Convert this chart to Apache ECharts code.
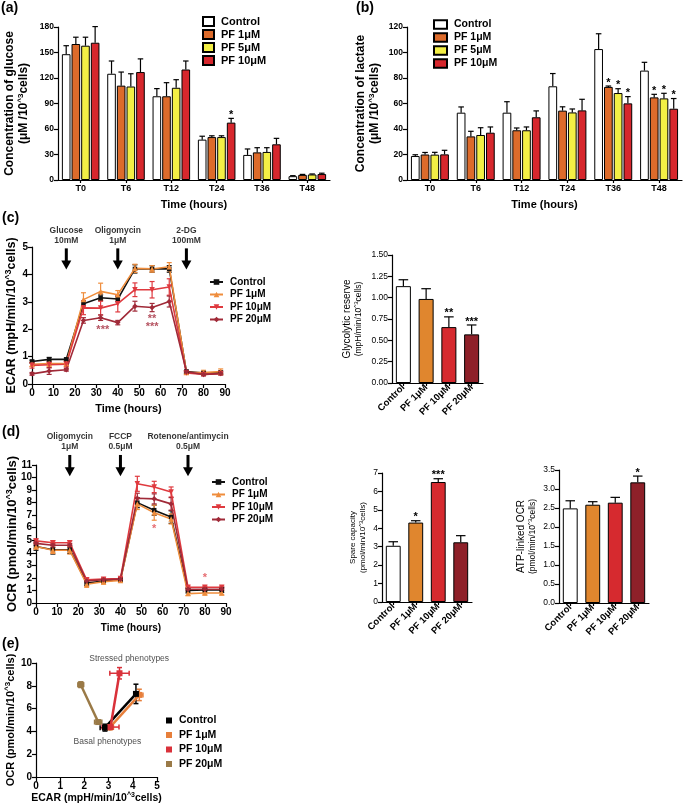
<!DOCTYPE html>
<html><head><meta charset="utf-8">
<script src="https://cdn.jsdelivr.net/npm/echarts/dist/echarts.min.js"></script>
<style>html,body{margin:0;padding:0;background:#fff}#c{width:685px;height:807px}</style>
</head><body><div id="c"></div>
<script>
// ================= DATA =================
const timeCats = ['T0','T6','T12','T24','T36','T48'];
const abNames = ['Control','PF 1μM','PF 5μM','PF 10μM'];
const glucoseControl = [148, 125, 98.5, 47.5, 29.5, 4.5];
const glucosePF1 = [160, 111, 98.5, 50.5, 32.5, 6];
const glucosePF5 = [158, 110, 108.5, 50.5, 33, 6.5];
const glucosePF10 = [161.5, 127, 130, 67.5, 42, 7];
const glucoseErrControl = [10, 15, 9, 4, 7, 0.6];
const glucoseErrPF1 = [8, 16, 16, 1.5, 5.5, 0.6];
const glucoseErrPF5 = [10, 15, 9.5, 1.5, 5, 0.6];
const glucoseErrPF10 = [19, 15.5, 10, 5, 7, 1];
const glucoseStarsPF10 = ['', '', '', '*', '', ''];

const lactateControl = [18.8, 52.8, 52.8, 73.5, 102.7, 85.8];
const lactatePF1 = [20, 34.2, 39, 54.4, 73, 64.8];
const lactatePF5 = [19.9, 35.3, 39, 53, 68.2, 64];
const lactatePF10 = [20.1, 37.1, 49.2, 54.6, 60.1, 55.9];
const lactateErrControl = [1, 4.5, 8.6, 10, 12, 6.5];
const lactateErrPF1 = [1.6, 4, 1.8, 3, 0.7, 2.4];
const lactateErrPF5 = [1.8, 5.7, 2.6, 2.7, 3.4, 4];
const lactateErrPF10 = [3.2, 4.5, 5, 8.7, 5.3, 8];
const lactateStarsPF = ['', '', '', '', '*', '*'];

const cdNames = ['Control','PF 1μM','PF 10μM','PF 20μM'];
const timeH = [0, 8, 16, 24, 32, 40, 48, 56, 64, 72, 80, 88];
const ecarControl = [0.82, 0.9, 0.9, 2.93, 3.15, 3.1, 4.2, 4.2, 4.2, 0.45, 0.4, 0.42];
const ecarPF1 = [0.72, 0.75, 0.75, 3.08, 3.38, 3.26, 4.22, 4.2, 4.28, 0.42, 0.42, 0.45];
const ecarPF10 = [0.68, 0.7, 0.72, 2.78, 2.77, 2.93, 3.44, 3.44, 3.54, 0.4, 0.35, 0.38];
const ecarPF20 = [0.37, 0.47, 0.52, 2.32, 2.42, 2.24, 2.84, 2.79, 3.01, 0.45, 0.35, 0.38];
const ecarErrControl = [0.05, 0.07, 0.05, 0.1, 0.1, 0.1, 0.15, 0.12, 0.12, 0.05, 0.05, 0.05];
const ecarErrPF1 = [0.08, 0.1, 0.1, 0.25, 0.3, 0.15, 0.15, 0.12, 0.15, 0.05, 0.08, 0.1];
const ecarErrPF10 = [0.1, 0.1, 0.1, 0.25, 0.25, 0.3, 0.25, 0.3, 0.3, 0.05, 0.05, 0.05];
const ecarErrPF20 = [0.05, 0.12, 0.05, 0.1, 0.1, 0.08, 0.18, 0.15, 0.2, 0.05, 0.05, 0.05];
const cArrowTimes = [16, 40, 72];
const cArrowTexts = ['Glucose\n10mM', 'Oligomycin\n1μM', '2-DG\n100mM'];
const cStarTimes = [33, 56, 56];
const cStarLevels = [1.98, 2.38, 2.09];
const cStarTexts = ['***', '**', '***'];

const glycoNames = ['Control','PF 1μM','PF 10μM','PF 20μM'];
const glycoReserve = [1.135, 0.985, 0.655, 0.57];
const glycoReserveErr = [0.075, 0.12, 0.12, 0.11];
const glycoStars = ['', '', '**', '***'];

const ocrControl = [4.5, 4.25, 4.25, 1.6, 1.75, 1.85, 8.0, 7.4, 6.85, 1.0, 1.05, 1.05];
const ocrPF1 = [4.5, 4.2, 4.2, 1.5, 1.7, 1.8, 7.9, 7.2, 6.7, 0.75, 0.8, 0.8];
const ocrPF10 = [4.95, 4.8, 4.8, 1.85, 1.9, 1.95, 9.5, 9.25, 8.85, 1.25, 1.25, 1.25];
const ocrPF20 = [4.75, 4.6, 4.6, 1.75, 1.85, 1.9, 8.35, 8.3, 7.9, 1.1, 1.1, 1.1];
const ocrErrControl = [0.3, 0.35, 0.3, 0.2, 0.15, 0.1, 0.4, 0.4, 0.5, 0.2, 0.2, 0.2];
const ocrErrPF1 = [0.2, 0.25, 0.3, 0.25, 0.2, 0.15, 0.45, 0.6, 0.4, 0.15, 0.15, 0.15];
const ocrErrPF10 = [0.15, 0.15, 0.15, 0.15, 0.1, 0.1, 0.6, 0.45, 0.4, 0.1, 0.1, 0.1];
const ocrErrPF20 = [0.15, 0.15, 0.15, 0.15, 0.1, 0.1, 0.4, 0.4, 0.5, 0.1, 0.1, 0.1];
const dArrowTimes = [16, 40, 72];
const dArrowTexts = ['Oligomycin\n1μM', 'FCCP\n0.5μM', 'Rotenone/antimycin\n0.5μM'];
const dStarTimes = [56, 80];
const dStarLevels = [5.9, 2.0];
const dStarTexts = ['*', '*'];

const spareCapacity = [3.05, 4.31, 6.51, 3.24];
const spareCapacityErr = [0.22, 0.1, 0.18, 0.36];
const spareStars = ['', '*', '***', ''];
const atpOCR = [2.49, 2.586, 2.64, 3.175];
const atpOCRErr = [0.2, 0.08, 0.14, 0.165];
const atpStars = ['', '', '', '*'];

// (e) basal, stressed
const eECARControl = [2.85, 4.13], eOCRControl = [4.33, 7.29];
const eECARErrControl = [0.2, 0.08], eOCRErrControl = [0.3, 0.85];
const eECARPF1 = [3.05, 4.27], eOCRPF1 = [4.35, 7.2];
const eECARErrPF1 = [0.15, 0.15], eOCRErrPF1 = [0.2, 0.5];
const eECARPF10 = [3.08, 3.45], eOCRPF10 = [4.38, 9.1];
const eECARErrPF10 = [0.35, 0.4], eOCRErrPF10 = [0.15, 0.5];
const eECARPF20 = [2.57, 1.85], eOCRPF20 = [4.82, 8.1];
const eECARErrPF20 = [0.15, 0.12], eOCRErrPF20 = [0.15, 0.25];

// ================= STYLE / BUILD =================
const FONT = '"Liberation Sans", Arial, Helvetica, sans-serif';
function isObj(o){return o && typeof o==='object' && !Array.isArray(o);}
function merge(a,b){const r=Object.assign({},a);for(const k in b){r[k]=(isObj(a[k])&&isObj(b[k]))?merge(a[k],b[k]):b[k];}return r;}
function ax(gi, extra){
  return merge({
    gridIndex: gi,
    axisLine:{show:true,onZero:false,lineStyle:{color:'#000',width:1.2}},
    axisTick:{show:true,inside:false,length:4,lineStyle:{color:'#000',width:1.2}},
    splitLine:{show:false}, splitArea:{show:false},
    axisLabel:{show:true,color:'#000',fontFamily:FONT,fontWeight:'bold',fontSize:9,margin:4},
    nameLocation:'middle', nameMoveOverlap:false,
    nameTextStyle:{color:'#000',fontFamily:FONT,fontWeight:'bold',fontSize:11}
  }, extra);
}
function richName(sz, sz2, weight){
  return {color:'#000',fontFamily:FONT,fontWeight:weight,fontSize:sz,
    rich:{
      t:{fontSize:sz,fontWeight:weight,fontFamily:FONT,color:'#000',lineHeight:sz+2},
      s:{fontSize:sz2,fontWeight:weight,fontFamily:FONT,color:'#000',lineHeight:sz+2},
      sup:{fontSize:Math.round(sz2*0.7),fontWeight:weight,fontFamily:FONT,color:'#000',lineHeight:Math.round(sz2*0.7),verticalAlign:'top'}
    }};
}

function barErr(nSeries, idx, wPct, gPct, errs, stars, starColor){
  return function(params, api){
    const i = params.dataIndex;
    const band = api.size([1,0])[0];
    const bw = band*wPct, gap = bw*gPct;
    const total = nSeries*bw + (nSeries-1)*gap;
    const off = -total/2 + bw/2 + idx*(bw+gap);
    const v = api.value(1);
    const p0 = api.coord([api.value(0), v]);
    const p1 = api.coord([api.value(0), v + errs[i]]);
    const x = p0[0] + off, cap = Math.max(2, bw*0.32);
    const st = {stroke:'#000', lineWidth:1.2};
    const ch = [
      {type:'line', shape:{x1:x,y1:p0[1],x2:x,y2:p1[1]}, style:st},
      {type:'line', shape:{x1:x-cap,y1:p1[1],x2:x+cap,y2:p1[1]}, style:st}
    ];
    if (stars && stars[i]) ch.push({type:'text', x:x, y:p1[1]+2,
      style:{text:stars[i], textAlign:'center', align:'center', textVerticalAlign:'bottom', verticalAlign:'bottom',
      fill:starColor||'#000', font:'bold 11px '+FONT}});
    return {type:'group', children:ch};
  };
}
function lineErr(errs, color){
  return function(params, api){
    const i = params.dataIndex, t = api.value(0), v = api.value(1);
    const a = api.coord([t, v+errs[i]]), b = api.coord([t, v-errs[i]]);
    const x = a[0], cap = 2.5, st = {stroke:color, lineWidth:1.2};
    return {type:'group', children:[
      {type:'line', shape:{x1:x,y1:a[1],x2:x,y2:b[1]}, style:st},
      {type:'line', shape:{x1:x-cap,y1:a[1],x2:x+cap,y2:a[1]}, style:st},
      {type:'line', shape:{x1:x-cap,y1:b[1],x2:x+cap,y2:b[1]}, style:st}
    ]};
  };
}
function xyErr(xerrs, yerrs, color){
  return function(params, api){
    const i = params.dataIndex, xv = api.value(0), yv = api.value(1);
    const L = api.coord([xv-xerrs[i], yv]), R = api.coord([xv+xerrs[i], yv]);
    const T = api.coord([xv, yv+yerrs[i]]), B = api.coord([xv, yv-yerrs[i]]);
    const cap = 2.5, st = {stroke:color, lineWidth:1.5};
    return {type:'group', children:[
      {type:'line', shape:{x1:L[0],y1:L[1],x2:R[0],y2:R[1]}, style:st},
      {type:'line', shape:{x1:L[0],y1:L[1]-cap,x2:L[0],y2:L[1]+cap}, style:st},
      {type:'line', shape:{x1:R[0],y1:R[1]-cap,x2:R[0],y2:R[1]+cap}, style:st},
      {type:'line', shape:{x1:T[0],y1:T[1],x2:B[0],y2:B[1]}, style:st},
      {type:'line', shape:{x1:T[0]-cap,y1:T[1],x2:T[0]+cap,y2:T[1]}, style:st},
      {type:'line', shape:{x1:B[0]-cap,y1:B[1],x2:B[0]+cap,y2:B[1]}, style:st}
    ]};
  };
}
function arrowRender(yTop, yTip){
  return function(params, api){
    const t = api.value(0);
    const a = api.coord([t, yTop]), b = api.coord([t, yTip]);
    const hw = 5, hh = 9;
    return {type:'group', children:[
      {type:'line', shape:{x1:a[0], y1:a[1], x2:b[0], y2:b[1]-hh+1}, style:{stroke:'#000', lineWidth:3}},
      {type:'polygon', shape:{points:[[b[0]-hw, b[1]-hh],[b[0]+hw, b[1]-hh],[b[0], b[1]]]}, style:{fill:'#000'}}
    ]};
  };
}

const abColors = ['#ffffff', '#dd6b2b', '#f3ef45', '#d7272d'];
const cdLineColors = ['#111111', '#ef8d3c', '#df3a3f', '#a02a38'];
const smallBarColors = ['#ffffff', '#e0862e', '#d62a2f', '#8e2029'];
const eColors = ['#000000', '#e77f3b', '#d9313a', '#9a7a47'];
const cdSymbols = ['rect', 'triangle', 'triangle', 'diamond'];
const cdSymbolRot = [0, 0, 180, 0];

const series = [];
// ---- (a) & (b) grouped bars ----
function groupedBars(prefix, gi, vals, errs, stars){
  vals.forEach((arr, k)=>{
    series.push({type:'bar', name:prefix+abNames[k], xAxisIndex:gi, yAxisIndex:gi,
      data:arr, barWidth:'19%', barGap:'12%',
      itemStyle:{color:abColors[k], borderColor:'#000', borderWidth:1}});
  });
  vals.forEach((arr, k)=>{
    series.push({type:'custom', xAxisIndex:gi, yAxisIndex:gi, silent:true, z:5,
      renderItem: barErr(4, k, 0.19, 0.12, errs[k], stars[k]),
      data: arr.map((v,i)=>[i, v])});
  });
}
groupedBars('a_', 0, [glucoseControl, glucosePF1, glucosePF5, glucosePF10],
  [glucoseErrControl, glucoseErrPF1, glucoseErrPF5, glucoseErrPF10],
  [null, null, null, glucoseStarsPF10]);
groupedBars('b_', 1, [lactateControl, lactatePF1, lactatePF5, lactatePF10],
  [lactateErrControl, lactateErrPF1, lactateErrPF5, lactateErrPF10],
  [null, lactateStarsPF, lactateStarsPF, lactateStarsPF]);

// ---- line panels (c) left and (d) left ----
function linePanel(prefix, gi, vals, errs){
  vals.forEach((arr,k)=>{
    series.push({type:'custom', xAxisIndex:gi, yAxisIndex:gi, silent:true, z:2,
      renderItem: lineErr(errs[k], cdLineColors[k]), data: timeH.map((t,i)=>[t, arr[i]])});
  });
  vals.forEach((arr,k)=>{
    series.push({type:'line', name:prefix+cdNames[k], xAxisIndex:gi, yAxisIndex:gi,
      data: timeH.map((t,i)=>[t, arr[i]]), symbol:cdSymbols[k], symbolRotate:cdSymbolRot[k],
      symbolSize: k===0?4.5:5.5, showSymbol:true, z:3,
      lineStyle:{color:cdLineColors[k], width:1.6}, itemStyle:{color:cdLineColors[k]}});
  });
}
linePanel('c_', 2, [ecarControl, ecarPF1, ecarPF10, ecarPF20], [ecarErrControl, ecarErrPF1, ecarErrPF10, ecarErrPF20]);
linePanel('d_', 4, [ocrControl, ocrPF1, ocrPF10, ocrPF20], [ocrErrControl, ocrErrPF1, ocrErrPF10, ocrErrPF20]);

// arrows
function arrows(gi, times, texts, yTop, yTip, yText){
  series.push({type:'custom', xAxisIndex:gi, yAxisIndex:gi, silent:true, clip:false, z:6,
    renderItem: arrowRender(yTop, yTip), data: times.map(t=>[t, yTop])});
  series.push({type:'scatter', xAxisIndex:gi, yAxisIndex:gi, silent:true, clip:false, symbolSize:1,
    itemStyle:{color:'rgba(0,0,0,0)'},
    data: times.map((t,i)=>({value:[t, yText], name:texts[i]})),
    label:{show:true, position:'inside', formatter:p=>p.name, color:'#000', fontFamily:FONT,
      fontWeight:'bold', fontSize:8.5, lineHeight:10, align:'center'}});
}
arrows(2, cArrowTimes, cArrowTexts, 4.95, 4.18, 5.42);
arrows(4, dArrowTimes, dArrowTexts, 11.8, 10.1, 12.9);

function starLabels(gi, ts, ys, txts, color){
  series.push({type:'scatter', xAxisIndex:gi, yAxisIndex:gi, silent:true, clip:false, symbolSize:1,
    itemStyle:{color:'rgba(0,0,0,0)'},
    data: ts.map((t,i)=>({value:[t, ys[i]], name:txts[i]})),
    label:{show:true, position:'inside', formatter:p=>p.name, color:color, fontFamily:FONT,
      fontWeight:'bold', fontSize:11}});
}
starLabels(2, cStarTimes, cStarLevels, cStarTexts, '#a3283a');
starLabels(4, dStarTimes, dStarLevels, dStarTexts, '#e0474d');

// ---- single bar panels ----
function singleBars(gi, vals, errs, stars){
  series.push({type:'bar', xAxisIndex:gi, yAxisIndex:gi, barWidth:'66%',
    data: vals.map((v,i)=>({value:v, itemStyle:{color:smallBarColors[i], borderColor:'#000', borderWidth:1}}))});
  series.push({type:'custom', xAxisIndex:gi, yAxisIndex:gi, silent:true, z:5,
    renderItem: barErr(1, 0, 0.66, 0, errs, stars), data: vals.map((v,i)=>[i, v])});
}
singleBars(3, glycoReserve, glycoReserveErr, glycoStars);
singleBars(5, spareCapacity, spareCapacityErr, spareStars);
singleBars(6, atpOCR, atpOCRErr, atpStars);

// ---- (e) ----
const eX = [eECARControl, eECARPF1, eECARPF10, eECARPF20];
const eY = [eOCRControl, eOCRPF1, eOCRPF10, eOCRPF20];
const eXE = [eECARErrControl, eECARErrPF1, eECARErrPF10, eECARErrPF20];
const eYE = [eOCRErrControl, eOCRErrPF1, eOCRErrPF10, eOCRErrPF20];
const eOrder = [3, 1, 0, 2];
eOrder.forEach(k=>{
  series.push({type:'custom', xAxisIndex:7, yAxisIndex:7, silent:true, z:2,
    renderItem: xyErr(eXE[k], eYE[k], eColors[k]), data: eX[k].map((x,i)=>[x, eY[k][i]])});
  series.push({type:'line', name:'e_'+cdNames[k], xAxisIndex:7, yAxisIndex:7, z:3,
    data: eX[k].map((x,i)=>[x, eY[k][i]]), symbol:'rect', symbolSize:6,
    lineStyle:{color:eColors[k], width:2.5}, itemStyle:{color:eColors[k]}});
});
series.push({type:'scatter', xAxisIndex:7, yAxisIndex:7, silent:true, clip:false, symbolSize:1,
  itemStyle:{color:'rgba(0,0,0,0)'},
  data:[{value:[3.85,10.35], name:'Stressed phenotypes'},{value:[2.95,3.08], name:'Basal phenotypes'}],
  label:{show:true, position:'inside', formatter:p=>p.name, color:'#222', fontFamily:FONT, fontSize:8.5}});

function legend(prefix, names, left, top, font, gap, icon, iw, ih){
  return {show:true, orient:'vertical', left:left, top:top, padding:0, itemGap:gap, itemWidth:iw, itemHeight:ih,
    icon:icon, selectedMode:false, data: names.map(n=>prefix+n), formatter: n=>n.slice(2),
    textStyle:{color:'#000', fontFamily:FONT, fontWeight:'bold', fontSize:font, padding:[0,0,0,2]}};
}
const T = (txt, l, t)=>({text:txt, left:l, top:t, padding:0,
  textStyle:{fontFamily:FONT, fontWeight:'bold', fontSize:14, color:'#000'}});

const smallX = (gi, names)=>ax(gi, {type:'category', data:names,
  axisTick:{alignWithLabel:true, length:3},
  axisLabel:{rotate:45, interval:0, fontSize:9.5, margin:3}});

const option = {
  animation:false,
  backgroundColor:'#fff',
  title:[T('(a)',1,1), T('(b)',356,1), T('(c)',2,211), T('(d)',2,425), T('(e)',2,637)],
  legend:[
    legend('a_', abNames, 202, 16, 11, 2, 'rect', 11, 9),
    legend('b_', abNames, 433, 19, 10.5, 2, 'rect', 13, 8.5),
    legend('c_', cdNames, 209, 277, 10, 2.5, null, 13, 7),
    legend('d_', cdNames, 211, 477, 10, 2.5, null, 13, 7),
    legend('e_', cdNames, 166, 715, 10.5, 3.5, 'rect', 6, 6)
  ],
  grid:[
    {left:58, top:27, width:272, height:153},
    {left:407, top:27, width:275, height:153},
    {left:32, top:247, width:193, height:137},
    {left:392, top:255, width:91, height:128},
    {left:36, top:465, width:190, height:138},
    {left:382, top:473, width:90, height:129},
    {left:559, top:470, width:90, height:133},
    {left:36, top:663, width:121, height:114}
  ].map(g=>Object.assign({containLabel:false, outerBoundsMode:'none'}, g)),
  xAxis:[
    ax(0, {type:'category', data:timeCats, axisTick:{alignWithLabel:true, length:3}, axisLabel:{interval:0},
      name:'Time (hours)', nameGap:19}),
    ax(1, {type:'category', data:timeCats, axisTick:{alignWithLabel:true, length:3}, axisLabel:{interval:0},
      name:'Time (hours)', nameGap:19}),
    ax(2, {type:'value', min:0, max:90, interval:10, axisLabel:{fontSize:10}, name:'Time (hours)', nameGap:19}),
    smallX(3, glycoNames),
    ax(4, {type:'value', min:0, max:90, interval:10, axisLabel:{fontSize:10}, name:'Time (hours)', nameGap:20,
      nameTextStyle:{fontSize:10}}),
    smallX(5, glycoNames),
    smallX(6, glycoNames),
    ax(7, {type:'value', min:0, max:5, interval:1, axisLabel:{fontSize:10},
      name:'{t|ECAR (mpH/min/10}{sup|^3}{t|cells)}', nameGap:15, nameTextStyle:richName(10.5,10.5,'bold')})
  ],
  yAxis:[
    ax(0, {type:'value', min:0, max:180, interval:30, axisLabel:{fontSize:8.5},
      name:'{t|Concentration of glucose}\n{t|(μM /10}{sup|^3}{t|cells)}', nameGap:27, nameTextStyle:richName(12,12,'bold')}),
    ax(1, {type:'value', min:0, max:120, interval:20, axisLabel:{fontSize:8.5},
      name:'{t|Concentration of lactate}\n{t|(μM /10}{sup|^3}{t|cells)}', nameGap:25, nameTextStyle:richName(12,12,'bold')}),
    ax(2, {type:'value', min:0, max:5, interval:1, axisLabel:{fontSize:10},
      name:'{t|ECAR (mpH/min/10}{sup|^3}{t|cells)}', nameGap:13, nameTextStyle:richName(12.5,12.5,'bold')}),
    ax(3, {type:'value', min:0, max:1.5, interval:0.25, axisLabel:{fontSize:8.5, fontWeight:'normal', formatter:v=>v.toFixed(2)},
      name:'{t|Glycolytic reserve}\n{s|(mpH/min/10}{sup|^3}{s|cells)}', nameGap:27, nameTextStyle:richName(10,8.5,'normal')}),
    ax(4, {type:'value', min:0, max:11, interval:1, axisLabel:{fontSize:10},
      name:'{t|OCR (pmol/min/10}{sup|^3}{t|cells)}', nameGap:16, nameTextStyle:richName(13,13,'bold')}),
    ax(5, {type:'value', min:0, max:7, interval:1, axisLabel:{fontSize:8.5, fontWeight:'normal'},
      name:'{t|Spare capacity}\n{s|(pmol/min/10}{sup|^3}{s|cells)}', nameGap:14, nameTextStyle:richName(8,8,'normal')}),
    ax(6, {type:'value', min:0, max:3.5, interval:0.5, axisLabel:{fontSize:8.5, fontWeight:'normal', formatter:v=>v.toFixed(1)},
      name:'{t|ATP-linked OCR}\n{s|(pmol/min/10}{sup|^3}{s|cells)}', nameGap:20, nameTextStyle:richName(10,8.5,'normal')}),
    ax(7, {type:'value', min:0, max:10, interval:2, axisLabel:{fontSize:10},
      name:'{t|OCR (pmol/min/10}{sup|^3}{t|cells)}', nameGap:19, nameTextStyle:richName(11,11,'bold')})
  ],
  series: series
};
const chart = echarts.init(document.getElementById('c'), null, {renderer:'canvas'});
chart.setOption(option);
</script></body></html>
